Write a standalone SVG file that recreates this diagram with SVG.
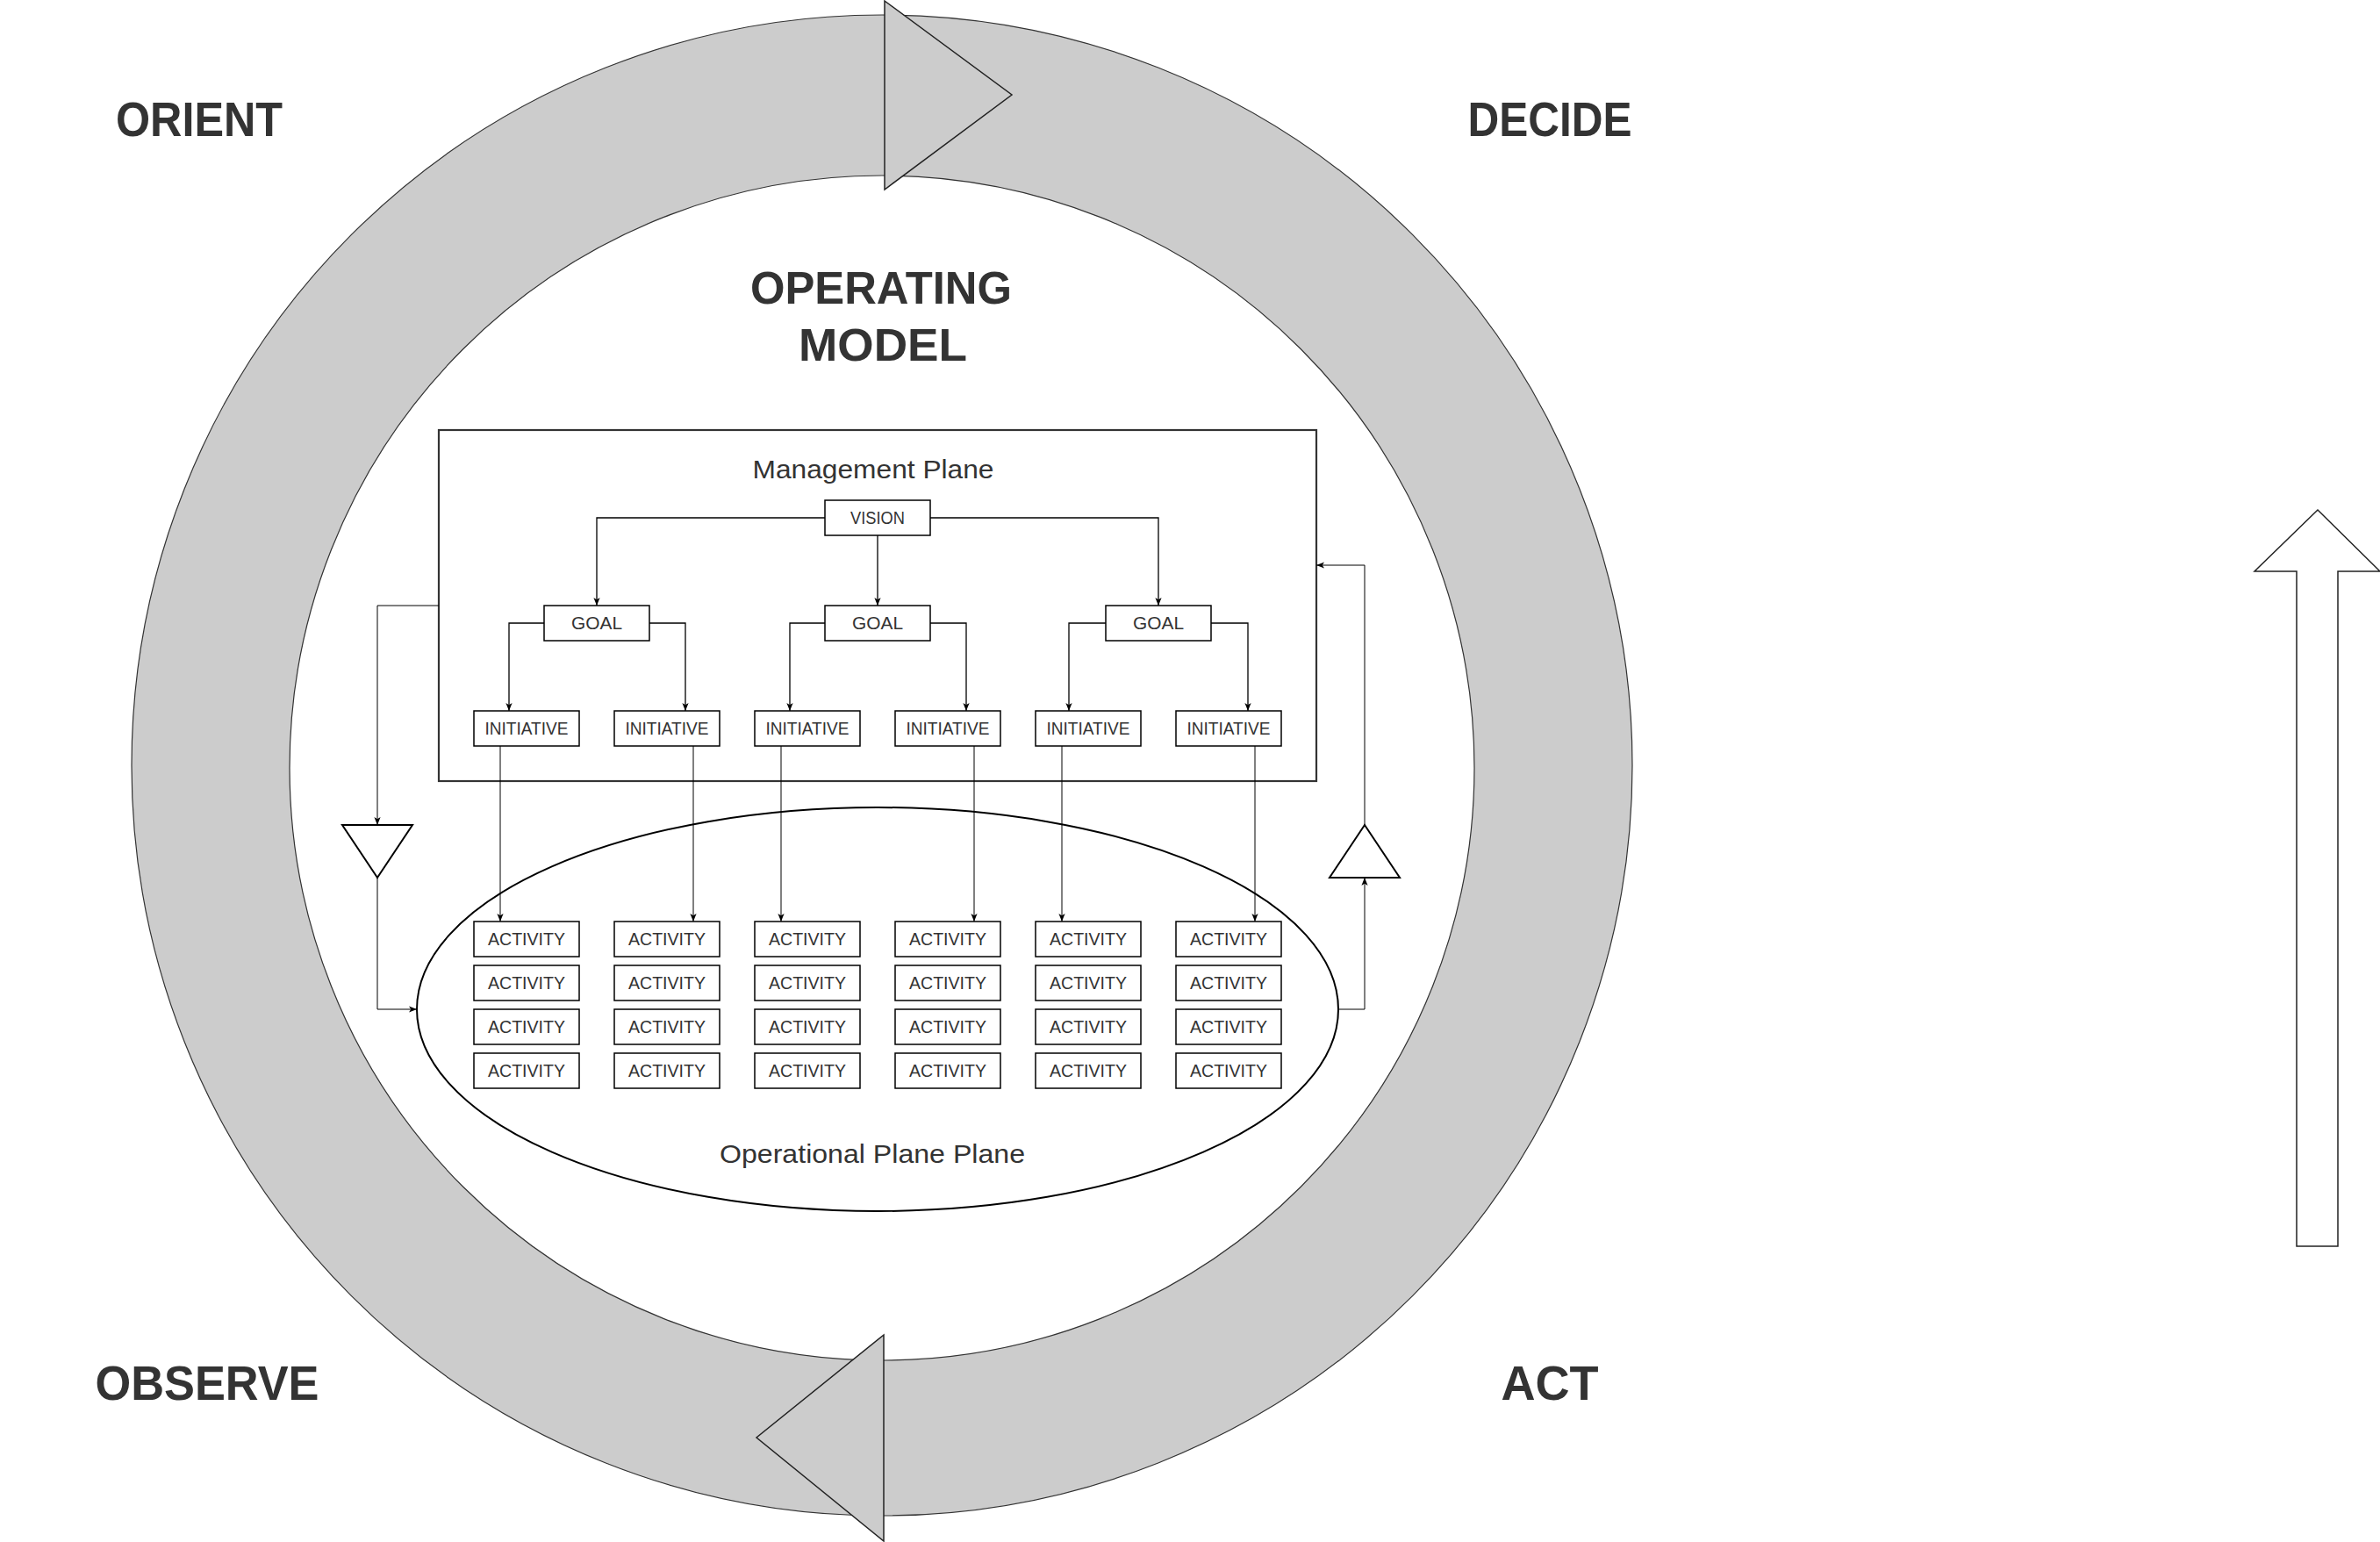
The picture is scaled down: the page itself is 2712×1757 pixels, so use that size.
<svg xmlns="http://www.w3.org/2000/svg" width="2712" height="1757" viewBox="0 0 2712 1757">
<style>
.head{font-family:"Liberation Sans",Arial,sans-serif;font-weight:bold;fill:#333;text-anchor:middle}
.big{font-size:56px}
.mid{font-size:52px}
.plane{font-family:"Liberation Sans",Arial,sans-serif;font-size:30px;fill:#333;text-anchor:middle}
.lbl{font-family:"Liberation Sans",Arial,sans-serif;font-size:20px;fill:#333;text-anchor:middle}
.box{fill:#fff;stroke:#000;stroke-width:1.5}
.c{fill:none;stroke:#000;stroke-width:1.3}
.c1{fill:none;stroke:#000;stroke-width:1}
</style>
<defs>
<marker id="arr" viewBox="0 0 10 10" refX="10" refY="5" markerWidth="9" markerHeight="9" markerUnits="userSpaceOnUse" orient="auto">
<path d="M0,1 L10,5 L0,9 L2.5,5 z" fill="#000"/>
</marker>
</defs>
<rect width="2712" height="1757" fill="#fff"/>
<g id="cycle">
<path d="M150,872 A855,855 0 1 1 1860,872 A855,855 0 1 1 150,872 Z M330,875 A675,675 0 1 0 1680,875 A675,675 0 1 0 330,875 Z" fill="#ccc" fill-rule="evenodd" stroke="#333" stroke-width="1.2"/>
<polygon points="1008,1 1153,108 1008,216" fill="#ccc" stroke="#222" stroke-width="1.5"/>
<polygon points="1007,1521 862,1638 1007,1756" fill="#ccc" stroke="#222" stroke-width="1.5"/>
</g>
<g id="up-arrow">
<polygon points="2641,581 2712,651 2664,651 2664,1420 2617,1420 2617,651 2569,651" fill="#fff" stroke="#222" stroke-width="1.5"/>
</g>
<g id="labels">
<text class="head big" x="227" y="155" textLength="190" lengthAdjust="spacingAndGlyphs">ORIENT</text>
<text class="head big" x="1766" y="155" textLength="187" lengthAdjust="spacingAndGlyphs">DECIDE</text>
<text class="head big" x="236" y="1595" textLength="255" lengthAdjust="spacingAndGlyphs">OBSERVE</text>
<text class="head big" x="1766" y="1595" textLength="111" lengthAdjust="spacingAndGlyphs">ACT</text>
<text class="head mid" x="1004" y="346" textLength="298" lengthAdjust="spacingAndGlyphs">OPERATING</text>
<text class="head mid" x="1006" y="411" textLength="192" lengthAdjust="spacingAndGlyphs">MODEL</text>
</g>
<g id="management-plane">
<rect x="500" y="490" width="1000" height="400" fill="#fff" stroke="#333" stroke-width="2.2"/>
<text class="plane" x="995" y="545" textLength="275" lengthAdjust="spacingAndGlyphs">Management Plane</text>
</g>
<g id="operational-plane">
<ellipse cx="1000" cy="1150" rx="525" ry="230" fill="#fff" stroke="#000" stroke-width="2"/>
<text class="plane" x="994" y="1325" textLength="348" lengthAdjust="spacingAndGlyphs">Operational Plane Plane</text>
</g>
<g id="tri-down">
<polygon points="390,940 470,940 430,1000" fill="#fff" stroke="#000" stroke-width="2"/>
</g>
<g id="tri-up">
<polygon points="1515,1000 1595,1000 1555,940" fill="#fff" stroke="#000" stroke-width="2"/>
</g>
<g id="connectors">
<path class="c" d="M940,590 H680 V690" marker-end="url(#arr)"/>
<path class="c" d="M1000,610 V690" marker-end="url(#arr)"/>
<path class="c" d="M1060,590 H1320 V690" marker-end="url(#arr)"/>
<path class="c" d="M620,710 H580 V810" marker-end="url(#arr)"/>
<path class="c" d="M740,710 H781 V810" marker-end="url(#arr)"/>
<path class="c" d="M940,710 H900 V810" marker-end="url(#arr)"/>
<path class="c" d="M1060,710 H1101 V810" marker-end="url(#arr)"/>
<path class="c" d="M1260,710 H1218 V810" marker-end="url(#arr)"/>
<path class="c" d="M1380,710 H1422 V810" marker-end="url(#arr)"/>
<path class="c1" d="M570,850 V1050" marker-end="url(#arr)"/>
<path class="c1" d="M790,850 V1050" marker-end="url(#arr)"/>
<path class="c1" d="M890,850 V1050" marker-end="url(#arr)"/>
<path class="c1" d="M1110,850 V1050" marker-end="url(#arr)"/>
<path class="c1" d="M1210,850 V1050" marker-end="url(#arr)"/>
<path class="c1" d="M1430,850 V1050" marker-end="url(#arr)"/>
<path class="c1" d="M500,690 H430 V940" marker-end="url(#arr)"/>
<path class="c1" d="M430,1000 V1150 H475" marker-end="url(#arr)"/>
<path class="c1" d="M1525,1150 H1555 V1000" marker-end="url(#arr)"/>
<path class="c1" d="M1555,940 V644 H1500" marker-end="url(#arr)"/>
</g>
<g id="vision"><rect class="box" x="940" y="570" width="120" height="40"/><text class="lbl" x="1000" y="597" textLength="62" lengthAdjust="spacingAndGlyphs">VISION</text></g>
<g id="goal-1"><rect class="box" x="620" y="690" width="120" height="40"/><text class="lbl" x="680" y="717" textLength="58" lengthAdjust="spacingAndGlyphs">GOAL</text></g>
<g id="goal-2"><rect class="box" x="940" y="690" width="120" height="40"/><text class="lbl" x="1000" y="717" textLength="58" lengthAdjust="spacingAndGlyphs">GOAL</text></g>
<g id="goal-3"><rect class="box" x="1260" y="690" width="120" height="40"/><text class="lbl" x="1320" y="717" textLength="58" lengthAdjust="spacingAndGlyphs">GOAL</text></g>
<g id="initiative-1"><rect class="box" x="540" y="810" width="120" height="40"/><text class="lbl" x="600" y="837" textLength="95" lengthAdjust="spacingAndGlyphs">INITIATIVE</text></g>
<g id="initiative-2"><rect class="box" x="700" y="810" width="120" height="40"/><text class="lbl" x="760" y="837" textLength="95" lengthAdjust="spacingAndGlyphs">INITIATIVE</text></g>
<g id="initiative-3"><rect class="box" x="860" y="810" width="120" height="40"/><text class="lbl" x="920" y="837" textLength="95" lengthAdjust="spacingAndGlyphs">INITIATIVE</text></g>
<g id="initiative-4"><rect class="box" x="1020" y="810" width="120" height="40"/><text class="lbl" x="1080" y="837" textLength="95" lengthAdjust="spacingAndGlyphs">INITIATIVE</text></g>
<g id="initiative-5"><rect class="box" x="1180" y="810" width="120" height="40"/><text class="lbl" x="1240" y="837" textLength="95" lengthAdjust="spacingAndGlyphs">INITIATIVE</text></g>
<g id="initiative-6"><rect class="box" x="1340" y="810" width="120" height="40"/><text class="lbl" x="1400" y="837" textLength="95" lengthAdjust="spacingAndGlyphs">INITIATIVE</text></g>
<g id="activity-1-1"><rect class="box" x="540" y="1050" width="120" height="40"/><text class="lbl" x="600" y="1077" textLength="88" lengthAdjust="spacingAndGlyphs">ACTIVITY</text></g>
<g id="activity-1-2"><rect class="box" x="700" y="1050" width="120" height="40"/><text class="lbl" x="760" y="1077" textLength="88" lengthAdjust="spacingAndGlyphs">ACTIVITY</text></g>
<g id="activity-1-3"><rect class="box" x="860" y="1050" width="120" height="40"/><text class="lbl" x="920" y="1077" textLength="88" lengthAdjust="spacingAndGlyphs">ACTIVITY</text></g>
<g id="activity-1-4"><rect class="box" x="1020" y="1050" width="120" height="40"/><text class="lbl" x="1080" y="1077" textLength="88" lengthAdjust="spacingAndGlyphs">ACTIVITY</text></g>
<g id="activity-1-5"><rect class="box" x="1180" y="1050" width="120" height="40"/><text class="lbl" x="1240" y="1077" textLength="88" lengthAdjust="spacingAndGlyphs">ACTIVITY</text></g>
<g id="activity-1-6"><rect class="box" x="1340" y="1050" width="120" height="40"/><text class="lbl" x="1400" y="1077" textLength="88" lengthAdjust="spacingAndGlyphs">ACTIVITY</text></g>
<g id="activity-2-1"><rect class="box" x="540" y="1100" width="120" height="40"/><text class="lbl" x="600" y="1127" textLength="88" lengthAdjust="spacingAndGlyphs">ACTIVITY</text></g>
<g id="activity-2-2"><rect class="box" x="700" y="1100" width="120" height="40"/><text class="lbl" x="760" y="1127" textLength="88" lengthAdjust="spacingAndGlyphs">ACTIVITY</text></g>
<g id="activity-2-3"><rect class="box" x="860" y="1100" width="120" height="40"/><text class="lbl" x="920" y="1127" textLength="88" lengthAdjust="spacingAndGlyphs">ACTIVITY</text></g>
<g id="activity-2-4"><rect class="box" x="1020" y="1100" width="120" height="40"/><text class="lbl" x="1080" y="1127" textLength="88" lengthAdjust="spacingAndGlyphs">ACTIVITY</text></g>
<g id="activity-2-5"><rect class="box" x="1180" y="1100" width="120" height="40"/><text class="lbl" x="1240" y="1127" textLength="88" lengthAdjust="spacingAndGlyphs">ACTIVITY</text></g>
<g id="activity-2-6"><rect class="box" x="1340" y="1100" width="120" height="40"/><text class="lbl" x="1400" y="1127" textLength="88" lengthAdjust="spacingAndGlyphs">ACTIVITY</text></g>
<g id="activity-3-1"><rect class="box" x="540" y="1150" width="120" height="40"/><text class="lbl" x="600" y="1177" textLength="88" lengthAdjust="spacingAndGlyphs">ACTIVITY</text></g>
<g id="activity-3-2"><rect class="box" x="700" y="1150" width="120" height="40"/><text class="lbl" x="760" y="1177" textLength="88" lengthAdjust="spacingAndGlyphs">ACTIVITY</text></g>
<g id="activity-3-3"><rect class="box" x="860" y="1150" width="120" height="40"/><text class="lbl" x="920" y="1177" textLength="88" lengthAdjust="spacingAndGlyphs">ACTIVITY</text></g>
<g id="activity-3-4"><rect class="box" x="1020" y="1150" width="120" height="40"/><text class="lbl" x="1080" y="1177" textLength="88" lengthAdjust="spacingAndGlyphs">ACTIVITY</text></g>
<g id="activity-3-5"><rect class="box" x="1180" y="1150" width="120" height="40"/><text class="lbl" x="1240" y="1177" textLength="88" lengthAdjust="spacingAndGlyphs">ACTIVITY</text></g>
<g id="activity-3-6"><rect class="box" x="1340" y="1150" width="120" height="40"/><text class="lbl" x="1400" y="1177" textLength="88" lengthAdjust="spacingAndGlyphs">ACTIVITY</text></g>
<g id="activity-4-1"><rect class="box" x="540" y="1200" width="120" height="40"/><text class="lbl" x="600" y="1227" textLength="88" lengthAdjust="spacingAndGlyphs">ACTIVITY</text></g>
<g id="activity-4-2"><rect class="box" x="700" y="1200" width="120" height="40"/><text class="lbl" x="760" y="1227" textLength="88" lengthAdjust="spacingAndGlyphs">ACTIVITY</text></g>
<g id="activity-4-3"><rect class="box" x="860" y="1200" width="120" height="40"/><text class="lbl" x="920" y="1227" textLength="88" lengthAdjust="spacingAndGlyphs">ACTIVITY</text></g>
<g id="activity-4-4"><rect class="box" x="1020" y="1200" width="120" height="40"/><text class="lbl" x="1080" y="1227" textLength="88" lengthAdjust="spacingAndGlyphs">ACTIVITY</text></g>
<g id="activity-4-5"><rect class="box" x="1180" y="1200" width="120" height="40"/><text class="lbl" x="1240" y="1227" textLength="88" lengthAdjust="spacingAndGlyphs">ACTIVITY</text></g>
<g id="activity-4-6"><rect class="box" x="1340" y="1200" width="120" height="40"/><text class="lbl" x="1400" y="1227" textLength="88" lengthAdjust="spacingAndGlyphs">ACTIVITY</text></g>
</svg>
